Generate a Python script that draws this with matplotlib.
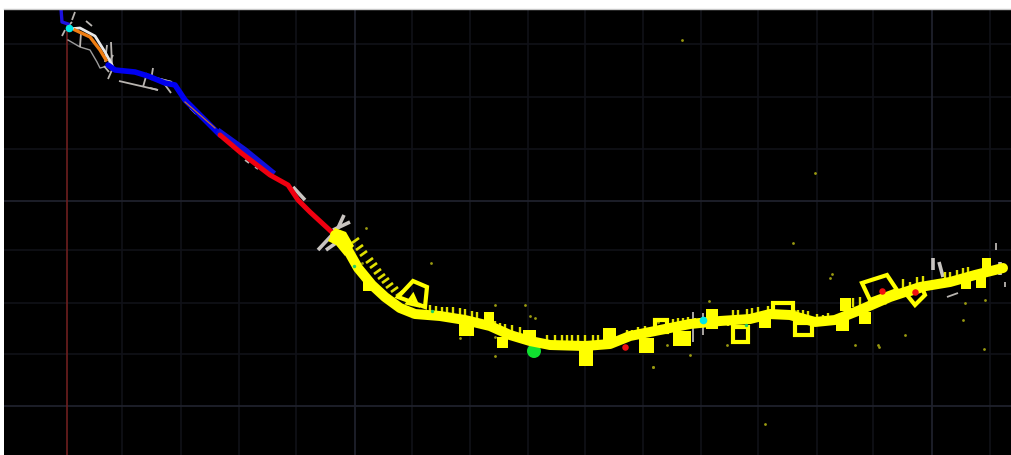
import matplotlib
matplotlib.use("Agg")
import matplotlib.pyplot as plt
from matplotlib.patches import Polygon, Circle

# everything in pixel units
grid_x = [122, 181, 239, 296, 412, 470, 528, 585, 643, 701, 758, 817, 873, 990]
grid_x_major = [355, 932]
grid_y = [44, 97, 149, 250, 303, 354]
grid_y_major = [201, 406]

axis_x = [67, 67]
axis_y = [24, 455]

yellow_x = [335, 345, 358, 372, 385, 400, 415, 440, 465, 490, 510, 530, 550, 585, 610, 630, 660, 690,
            720, 750, 770, 790, 815, 835, 860, 890, 920, 950, 975, 1003]
yellow_y = [235, 245, 268, 285, 297, 308, 314, 316, 320, 326, 335, 341, 345, 346, 344, 336, 330, 324,
            321, 319, 314, 315, 322, 320, 310, 297, 287, 282, 275, 268]

blue_x = [108, 115, 135, 148, 165, 175, 185, 220]
blue_y = [65, 70, 72, 76, 83, 85, 100, 135]
blue_thin_x = [220, 245, 272]
blue_thin_y = [132, 150, 172]
blue_top_x = [61, 62, 68]
blue_top_y = [9, 22, 24]

red_x = [220, 240, 270, 288, 298, 310, 335]
red_y = [135, 152, 175, 185, 200, 212, 235]

orange_x = [75, 90, 100, 106]
orange_y = [30, 37, 50, 60]
orange_thin_x = [185, 200, 215]
orange_thin_y = [102, 115, 128]
white_x = [68, 80, 95, 105, 112]
white_y = [29, 28, 36, 52, 65]
gray_x = [68, 80, 90, 97, 100, 108]
gray_y = [40, 47, 50, 62, 68, 66]

# short grey strokes near the start of the track: x0, y0, x1, y1
stroke_x0 = [80, 62, 75, 72, 86, 104, 107, 111, 113, 108, 119, 143, 153, 145, 150, 160, 163, 693, 703, 947, 996, 1005,
             180, 190, 245, 255]
stroke_y0 = [47, 36, 12, 22, 21, 66, 45, 42, 55, 79, 81, 87, 68, 75, 88, 79, 82, 312, 313, 297, 243, 282,
             92, 108, 160, 167]
stroke_x1 = [81, 65, 72, 68, 92, 109, 105, 112, 108, 112, 158, 147, 151, 172, 158, 172, 171, 693, 703, 958, 996, 1005,
             186, 196, 249, 258]
stroke_y1 = [33, 30, 20, 26, 26, 72, 62, 65, 65, 70, 90, 73, 80, 82, 90, 82, 93, 342, 335, 293, 250, 287,
             100, 114, 163, 169]

# the heavier grey strokes at the junction and along the red run
heavy_x0 = [333, 344, 318, 326, 293, 933, 939, 1000]
heavy_y0 = [230, 215, 250, 250, 187, 258, 262, 262]
heavy_x1 = [350, 338, 332, 336, 305, 933, 943, 1000]
heavy_y1 = [222, 228, 235, 243, 200, 270, 277, 275]

tick_x = [430, 436, 442, 447, 453, 460, 465, 472, 477, 495, 500, 505, 512, 520, 547, 555, 562, 567, 572, 578,
          585, 593, 598, 627, 632, 638, 645, 655, 673, 678, 683, 688, 695, 700, 720, 728, 733, 738, 747, 752,
          758, 768, 798, 803, 808, 817, 823, 828, 853, 860, 903, 910, 917, 923, 945, 950, 957, 963, 968]
tick_top = [305, 306, 307, 307, 307, 308, 309, 311, 312, 321, 323, 324, 325, 327, 335, 335, 335, 335, 335, 335,
            335, 335, 335, 330, 330, 327, 326, 323, 319, 318, 318, 317, 318, 318, 317, 317, 310, 310, 309, 308,
            307, 306, 310, 310, 311, 314, 315, 313, 298, 297, 279, 282, 277, 276, 272, 272, 270, 268, 267]

diag_x = [352, 356, 360, 366, 370, 374, 378, 382, 386, 391, 396]
diag_y = [243, 250, 256, 263, 268, 274, 279, 283, 288, 292, 296]

# filled yellow side blocks: left, top, right, bottom
block_left = [363, 459, 484, 497, 523, 579, 603, 639, 673, 706, 759, 836, 840, 859, 961, 976, 982]
block_top = [282, 322, 312, 337, 330, 349, 328, 338, 331, 309, 319, 319, 298, 312, 279, 277, 258]
block_right = [375, 474, 494, 508, 536, 593, 616, 654, 691, 718, 771, 849, 851, 871, 971, 986, 991]
block_bottom = [291, 336, 326, 348, 343, 366, 344, 353, 346, 329, 328, 331, 311, 324, 289, 288, 271]

hub_x = [328, 335, 346, 354, 345, 336]
hub_y = [241, 228, 232, 246, 256, 245]

# yellow outlined loops
loop_a_x = [398, 413, 427, 425]
loop_a_y = [297, 281, 287, 307]
loop_b_x = [408, 413, 417]
loop_b_y = [303, 296, 305]
loop_c_x = [655, 667, 667, 655]
loop_c_y = [320, 320, 332, 332]
loop_d_x = [733, 748, 748, 733]
loop_d_y = [327, 327, 342, 342]
loop_e_x = [773, 793, 793, 773]
loop_e_y = [303, 303, 317, 317]
loop_f_x = [795, 812, 812, 795]
loop_f_y = [323, 323, 335, 335]
loop_g_x = [862, 887, 897, 870]
loop_g_y = [283, 275, 290, 300]
loop_h_x = [907, 915, 925, 923]
loop_h_y = [295, 305, 295, 290]

dot_x = [682, 815, 793, 366, 431, 495, 362, 460, 530, 535, 495, 495, 653, 667, 727, 709, 658, 613, 690, 653,
         765, 832, 879, 878, 885, 963, 984, 985, 830, 763, 795, 905, 965, 855, 525]
dot_y = [40, 173, 243, 228, 263, 305, 263, 338, 316, 318, 337, 356, 367, 345, 345, 301, 322, 344, 355, 367,
         424, 274, 347, 345, 303, 320, 349, 300, 278, 325, 311, 335, 303, 345, 305]

red_spot_x = [882, 915, 625]
red_spot_y = [291, 292, 347]
cyan_x = [69, 703]
cyan_y = [28, 320]
green_x = [746, 354, 432]
green_y = [325, 266, 311]
ball_x = 534
ball_y = 351

YELLOW = "#ffff00"
W, H = 1012, 455


def main():
    fig = plt.figure(figsize=(W / 100, H / 100), dpi=100, facecolor="white")
    ax = fig.add_axes([4 / W, 0, (W - 4) / W, (H - 9) / H])
    ax.set_facecolor("black")
    ax.set_xlim(4, W)
    ax.set_ylim(H, 9)
    ax.set_xticks([])
    ax.set_yticks([])
    for s in ax.spines.values():
        s.set_visible(False)

    # grid
    for x in grid_x:
        ax.axvline(x, color="#101118", lw=1.2, zorder=1)
    for y in grid_y:
        ax.axhline(y, color="#101118", lw=1.2, zorder=1)
    for x in grid_x_major:
        ax.axvline(x, color="#1f212c", lw=1.3, zorder=1)
    for y in grid_y_major:
        ax.axhline(y, color="#1f212c", lw=1.3, zorder=1)
    ax.plot(axis_x, axis_y, color="#6e1f1f", lw=1.2, zorder=2)

    # start of the track
    ax.plot(gray_x, gray_y, color="#9c9c9c", lw=1.0, zorder=3)
    for x0, y0, x1, y1 in zip(stroke_x0, stroke_y0, stroke_x1, stroke_y1):
        ax.plot([x0, x1], [y0, y1], color="#b8b4b0", lw=1.3, zorder=3, solid_capstyle="butt")
    for x0, y0, x1, y1 in zip(heavy_x0, heavy_y0, heavy_x1, heavy_y1):
        ax.plot([x0, x1], [y0, y1], color="#c8c4c0", lw=2.6, zorder=3, solid_capstyle="butt")
    ax.plot(white_x, white_y, color="#e8e8e8", lw=2.0, zorder=4)
    ax.plot(orange_x, orange_y, color="#ef7d12", lw=2.4, zorder=5)
    ax.plot(blue_top_x, blue_top_y, color="#1c10e0", lw=2.4, zorder=5)
    ax.plot(blue_x, blue_y, color="#0000f0", lw=4.0, zorder=5, solid_capstyle="round")
    ax.plot(orange_thin_x, orange_thin_y, color="#c07030", lw=0.9, zorder=6)
    ax.plot(blue_thin_x, blue_thin_y, color="#1010d8", lw=4.2, zorder=5)
    ax.plot(red_x, red_y, color="#f00010", lw=3.6, zorder=6, solid_capstyle="round")

    # yellow track with its ticks and side blocks
    for x, top in zip(tick_x, tick_top):
        ax.plot([x, x], [top, top + 9], color="#e0e000", lw=1.7, zorder=7, solid_capstyle="butt")
    for x, y in zip(diag_x, diag_y):
        ax.plot([x, x + 7], [y, y - 5], color="#e0e000", lw=1.9, zorder=7, solid_capstyle="butt")
    for l, t, r, b in zip(block_left, block_top, block_right, block_bottom):
        ax.fill([l, r, r, l], [t, t, b, b], color=YELLOW, lw=0, zorder=8)
    ax.fill(hub_x, hub_y, color=YELLOW, lw=0, zorder=8)
    loops = [(loop_a_x, loop_a_y), (loop_b_x, loop_b_y), (loop_c_x, loop_c_y), (loop_d_x, loop_d_y),
             (loop_e_x, loop_e_y), (loop_f_x, loop_f_y), (loop_g_x, loop_g_y), (loop_h_x, loop_h_y)]
    for lx, ly in loops:
        ax.add_patch(Polygon(list(zip(lx, ly)), closed=True, fill=False, edgecolor=YELLOW, lw=3.0, zorder=8))
    ax.plot(yellow_x, yellow_y, color=YELLOW, lw=7.2, zorder=9, solid_capstyle="round", solid_joinstyle="round")

    # small marks
    ax.scatter(dot_x, dot_y, s=4, color="#9a9a10", lw=0, zorder=3)
    ax.scatter(red_spot_x, red_spot_y, s=22, color="#f01010", lw=0, zorder=10)
    ax.scatter(cyan_x, cyan_y, s=30, color="#00e8e8", lw=0, zorder=10)
    ax.scatter(green_x, green_y, s=6, color="#20d060", lw=0, zorder=10)
    ax.add_patch(Circle((ball_x, ball_y), 7, color="#10e030", lw=0, zorder=6))

    # thin grey line along the top edge of the black area
    fig.add_artist(plt.Line2D([4 / W, 1], [(H - 8.5) / H] * 2, color="#c8c8c8", lw=1))
    fig.savefig("out.png", dpi=100, facecolor="white")


if __name__ == "__main__":
    main()
